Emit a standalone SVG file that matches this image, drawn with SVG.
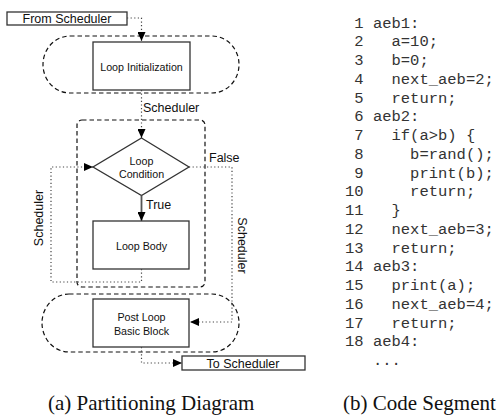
<svg xmlns="http://www.w3.org/2000/svg" width="503" height="416" viewBox="0 0 503 416">
  <style>
    .box { fill: #fff; stroke: #333; stroke-width: 1.3; }
    .region { fill: none; stroke: #111; stroke-width: 1.2; stroke-dasharray: 4.5 3; }
    .dot { fill: none; stroke: #444; stroke-width: 1.2; stroke-dasharray: 1.2 2.4; }
    .solid { fill: none; stroke: #555; stroke-width: 1.8; }
    .lbl { font-family: "Liberation Sans", Arial, sans-serif; font-size: 12.5px; fill: #111; }
    .in { font-family: "Liberation Sans", Arial, sans-serif; font-size: 10.7px; fill: #111; text-anchor: middle; }
    .code { font-family: "Liberation Mono", "Courier New", monospace; font-size: 15.5px; fill: #333; white-space: pre; }
    .cap { font-family: "Liberation Serif", "Times New Roman", serif; font-size: 21px; fill: #111; }
  </style>
  <defs>
    <marker id="arrow" markerUnits="userSpaceOnUse" markerWidth="9" markerHeight="8" refX="9" refY="4" orient="auto">
      <path d="M0,0 L9,4 L0,8 z" fill="#000"/>
    </marker>
  </defs>

  <!-- dashed partition regions -->
  <g id="regions">
    <rect id="region-init" class="region" x="43" y="36" width="196" height="57" rx="27" ry="28.5"/>
    <rect id="region-loop" class="region" x="77" y="120" width="128" height="167" rx="5" ry="5"/>
    <rect id="region-post" class="region" x="42" y="294" width="197" height="58" rx="27" ry="29"/>
  </g>

  <g id="from-scheduler">
    <rect class="box" x="7" y="12" width="120" height="13"/>
    <text class="lbl" x="67" y="22.5" text-anchor="middle">From Scheduler</text>
  </g>

  <g id="loop-init">
    <rect class="box" x="93" y="42" width="97" height="48"/>
    <text class="in" x="141.5" y="70.5">Loop Initialization</text>
  </g>

  <g id="loop-condition">
    <polygon class="box" points="141.5,138 189,167 141.5,195.5 93,167"/>
    <text class="in" x="141.5" y="165">Loop</text>
    <text class="in" x="141.5" y="177.5">Condition</text>
  </g>

  <g id="loop-body">
    <rect class="box" x="93" y="221" width="96" height="48"/>
    <text class="in" x="141.5" y="250">Loop Body</text>
  </g>

  <g id="post-loop">
    <rect class="box" x="93" y="299" width="96" height="48"/>
    <text class="in" x="141.5" y="321">Post Loop</text>
    <text class="in" x="141.5" y="334.5">Basic Block</text>
  </g>

  <g id="to-scheduler">
    <rect class="box" x="182" y="356" width="123" height="14"/>
    <text class="lbl" x="243" y="367.5" text-anchor="middle">To Scheduler</text>
  </g>

  <!-- connectors -->
  <g id="connectors">
    <polyline class="dot" points="127,18 141.5,18 141.5,41" marker-end="url(#arrow)"/>
    <polyline class="dot" points="141.5,90 141.5,138" marker-end="url(#arrow)"/>
    <polyline class="solid" points="141.5,195.5 141.5,221" marker-end="url(#arrow)"/>
    <polyline class="dot" points="141.5,269 141.5,282 51,282 51,167 93,167" marker-end="url(#arrow)"/>
    <polyline class="dot" points="189,167 232,167 232,322 190,322" marker-end="url(#arrow)"/>
    <polyline class="dot" points="141.5,347 141.5,363 182,363" marker-end="url(#arrow)"/>
    <text class="lbl" x="143" y="112">Scheduler</text>
    <text class="lbl" x="146" y="209">True</text>
    <text class="lbl" x="209" y="162">False</text>
    <text class="lbl" text-anchor="middle" transform="translate(43,218) rotate(-90)">Scheduler</text>
    <text class="lbl" text-anchor="middle" transform="translate(238,245.5) rotate(90)">Scheduler</text>
  </g>

  <!-- code listing -->
  <g id="code">
    <text class="code" xml:space="preserve" x="345" y="27.5"> 1 aeb1:</text>
    <text class="code" xml:space="preserve" x="345" y="46.25"> 2   a=10;</text>
    <text class="code" xml:space="preserve" x="345" y="65"> 3   b=0;</text>
    <text class="code" xml:space="preserve" x="345" y="83.75"> 4   next_aeb=2;</text>
    <text class="code" xml:space="preserve" x="345" y="102.5"> 5   return;</text>
    <text class="code" xml:space="preserve" x="345" y="121.25"> 6 aeb2:</text>
    <text class="code" xml:space="preserve" x="345" y="140"> 7   if(a&gt;b) {</text>
    <text class="code" xml:space="preserve" x="345" y="158.75"> 8     b=rand();</text>
    <text class="code" xml:space="preserve" x="345" y="177.5"> 9     print(b);</text>
    <text class="code" xml:space="preserve" x="345" y="196.25">10     return;</text>
    <text class="code" xml:space="preserve" x="345" y="215">11   }</text>
    <text class="code" xml:space="preserve" x="345" y="233.75">12   next_aeb=3;</text>
    <text class="code" xml:space="preserve" x="345" y="252.5">13   return;</text>
    <text class="code" xml:space="preserve" x="345" y="271.25">14 aeb3:</text>
    <text class="code" xml:space="preserve" x="345" y="290">15   print(a);</text>
    <text class="code" xml:space="preserve" x="345" y="308.75">16   next_aeb=4;</text>
    <text class="code" xml:space="preserve" x="345" y="327.5">17   return;</text>
    <text class="code" xml:space="preserve" x="345" y="346.25">18 aeb4:</text>
    <text class="code" xml:space="preserve" x="345" y="365">   ...</text>
  </g>

  <g id="captions">
    <text class="cap" x="48" y="410">(a) Partitioning Diagram</text>
    <text class="cap" x="343" y="410">(b) Code Segment</text>
  </g>
</svg>
